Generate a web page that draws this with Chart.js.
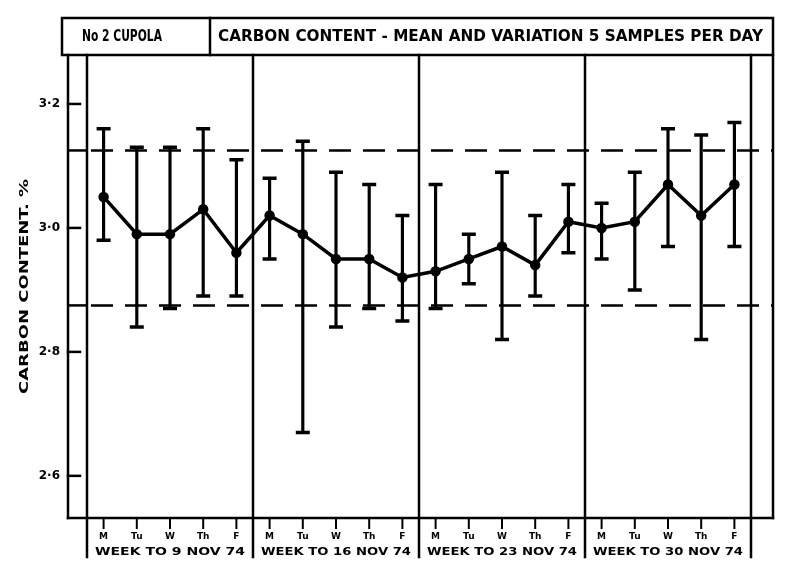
<!DOCTYPE html>
<html>
<head>
<meta charset="utf-8">
<script src="https://cdn.jsdelivr.net/npm/chart.js@4.4.1/dist/chart.umd.min.js"></script>
<style>
  html, body { margin: 0; padding: 0; background: #fff; }
  #wrap { width: 785px; height: 568px; }
</style>
</head>
<body>
<div id="wrap"><canvas id="myChart" width="785" height="568"></canvas></div>
<script>
// data (carbon %, 5 samples per day)
const days = ["M", "Tu", "W", "Th", "F", "M", "Tu", "W", "Th", "F",
              "M", "Tu", "W", "Th", "F", "M", "Tu", "W", "Th", "F"];
const weekLabels = ["WEEK TO 9 NOV 74", "WEEK TO 16 NOV 74", "WEEK TO 23 NOV 74", "WEEK TO 30 NOV 74"];
const means = [3.05, 2.99, 2.99, 3.03, 2.96, 3.02, 2.99, 2.95, 2.95, 2.92,
               2.93, 2.95, 2.97, 2.94, 3.01, 3.00, 3.01, 3.07, 3.02, 3.07];
const highs = [3.16, 3.13, 3.13, 3.16, 3.11, 3.08, 3.14, 3.09, 3.07, 3.02,
               3.07, 2.99, 3.09, 3.02, 3.07, 3.04, 3.09, 3.16, 3.15, 3.17];
const lows  = [2.98, 2.84, 2.87, 2.89, 2.89, 2.95, 2.67, 2.84, 2.87, 2.85,
               2.87, 2.91, 2.82, 2.89, 2.96, 2.95, 2.90, 2.97, 2.82, 2.97];
const controlLimits = [2.875, 3.125];
const yTicks = [2.6, 2.8, 3.0, 3.2];
const titleLeft = "No 2 CUPOLA";
const titleMain = "CARBON CONTENT - MEAN AND VARIATION 5 SAMPLES PER DAY";
const yTitle = "CARBON CONTENT. %";

const FONT = "'DejaVu Sans', sans-serif";

function seg(ctx, x1, y1, x2, y2) {
  ctx.beginPath();
  ctx.moveTo(x1, y1);
  ctx.lineTo(x2, y2);
  ctx.stroke();
}

// draw text squeezed/stretched to a given width (hand lettering is wide)
function fitText(ctx, text, x, y, w, align) {
  const m = ctx.measureText(text).width;
  ctx.save();
  ctx.translate(x, y);
  ctx.scale(w / m, 1);
  ctx.textAlign = align;
  ctx.textBaseline = "middle";
  ctx.fillText(text, 0, 0);
  ctx.restore();
}

const framePlugin = {
  id: "frame",
  beforeDatasetsDraw(chart) {
    const ctx = chart.ctx;
    const y = chart.scales.y;
    ctx.save();
    ctx.strokeStyle = "#000";
    ctx.lineWidth = 2.5;
    controlLimits.forEach(function (v) {
      const py = y.getPixelForValue(v);
      ctx.setLineDash([]);
      seg(ctx, 68, py, chart.chartArea.left, py);
      ctx.setLineDash([22, 12]);
      seg(ctx, chart.chartArea.left + 4, py, 773, py);
    });
    ctx.restore();
  },
  afterDraw(chart) {
    const ctx = chart.ctx;
    const a = chart.chartArea;
    const x = chart.scales.x;
    const y = chart.scales.y;
    ctx.save();
    ctx.strokeStyle = "#000";
    ctx.fillStyle = "#000";
    ctx.lineWidth = 2.5;
    ctx.lineCap = "square";

    // title box
    ctx.strokeRect(62, 18, 773 - 62, a.top - 18);
    seg(ctx, 210, 18, 210, a.top);
    ctx.font = "bold 15px " + FONT;
    fitText(ctx, titleLeft, 82, 37, 80, "left");
    fitText(ctx, titleMain, 218, 37, 545, "left");

    // frame
    seg(ctx, 68, a.top, 68, a.bottom);
    seg(ctx, a.left, a.top, a.left, a.bottom + 39);
    seg(ctx, 68, a.bottom, 773, a.bottom);
    seg(ctx, a.right, a.top, a.right, a.bottom + 39);
    seg(ctx, 773, a.top, 773, a.bottom);

    // week separators
    [5, 10, 15].forEach(function (i) {
      const px = (x.getPixelForValue(i - 1) + x.getPixelForValue(i)) / 2;
      seg(ctx, px, a.top, px, a.bottom + 39);
    });

    // y tick marks
    yTicks.forEach(function (v) {
      const py = y.getPixelForValue(v);
      seg(ctx, 68, py, 80, py);
    });

    // x tick marks
    ctx.lineWidth = 2;
    days.forEach(function (d, i) {
      const px = x.getPixelForValue(i);
      seg(ctx, px, a.bottom, px, a.bottom + 10);
    });

    // week labels
    ctx.font = "bold 11px " + FONT;
    weekLabels.forEach(function (w, k) {
      const cx = (x.getPixelForValue(k * 5) + x.getPixelForValue(k * 5 + 4)) / 2;
      fitText(ctx, w, cx, a.bottom + 34, 150, "center");
    });

    // y axis title
    ctx.font = "bold 12px " + FONT;
    ctx.save();
    ctx.translate(25, (a.top + a.bottom) / 2);
    ctx.rotate(-Math.PI / 2);
    fitText(ctx, yTitle, 0, 0, 215, "center");
    ctx.restore();

    ctx.restore();
  },
};

const ctx = document.getElementById("myChart");

new Chart(ctx, {
  type: "bar",
  data: {
    labels: days,
    datasets: [
      {
        type: "line",
        label: "mean",
        data: means,
        borderColor: "#000",
        backgroundColor: "#000",
        borderWidth: 3.5,
        pointRadius: 3.5,
        pointBackgroundColor: "#000",
        tension: 0,
        order: 0,
      },
      {
        type: "line",
        label: "max",
        data: highs,
        showLine: false,
        pointStyle: "line",
        pointRadius: 7,
        pointBorderWidth: 3.5,
        borderColor: "#000",
        order: 1,
      },
      {
        type: "line",
        label: "min",
        data: lows,
        showLine: false,
        pointStyle: "line",
        pointRadius: 7,
        pointBorderWidth: 3.5,
        borderColor: "#000",
        order: 1,
      },
      {
        label: "range",
        data: lows.map((l, i) => [l, highs[i]]),
        backgroundColor: "#000",
        barThickness: 2.5,
        order: 2,
      },
    ],
  },
  options: {
    responsive: false,
    animation: false,
    events: [],
    layout: { padding: { top: 55, right: 34, left: 0, bottom: 0 } },
    plugins: {
      legend: { display: false },
      tooltip: { enabled: false },
    },
    scales: {
      x: {
        type: "category",
        offset: true,
        grid: { display: false, drawTicks: false },
        border: { display: false },
        ticks: {
          color: "#000",
          font: { family: FONT, size: 9, weight: "bold" },
          padding: 13,
          maxRotation: 0,
          autoSkip: false,
        },
        afterFit: (s) => { s.height = 50; },
      },
      y: {
        min: 2.532,
        max: 3.279,
        grid: { display: false, drawTicks: false },
        border: { display: false },
        afterBuildTicks: (s) => { s.ticks = yTicks.map((v) => ({ value: v })); },
        ticks: {
          color: "#000",
          font: { family: FONT, size: 12, weight: "bold" },
          padding: 27,
          callback: (v) => Number(v).toFixed(1).replace(".", "·"),
        },
        afterFit: (s) => { s.width = 87; },
      },
    },
  },
  plugins: [framePlugin],
});
</script>
</body>
</html>
